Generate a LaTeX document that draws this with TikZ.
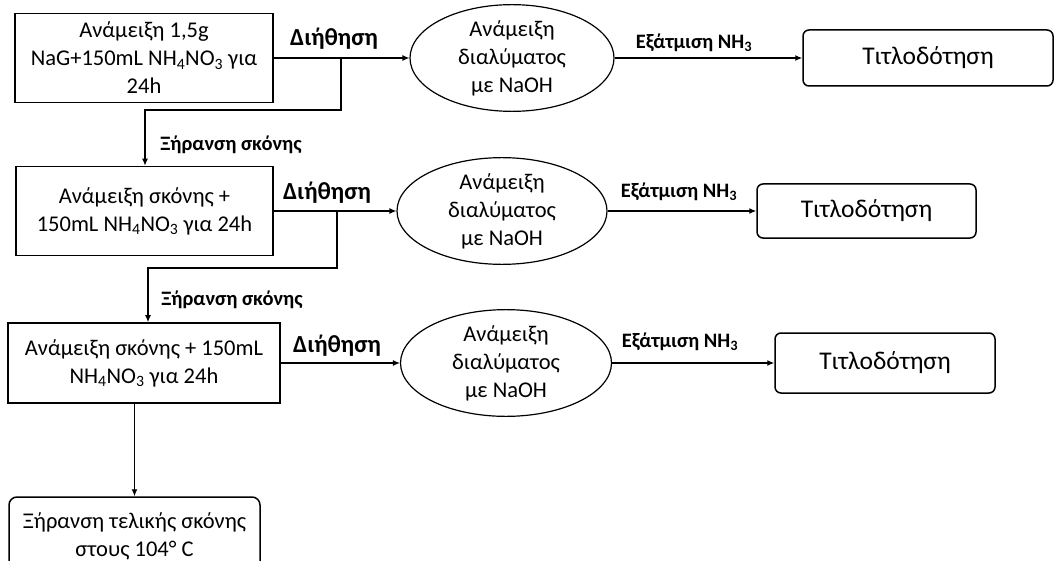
\documentclass[tikz,border=0pt]{standalone}
\usepackage{fontspec}
\setmainfont{Carlito}
\usetikzlibrary{shapes.geometric,arrows.meta}

\tikzset{
  x=1pt, y=-1pt,
  txt/.style={font=\fontsize{22.5}{28}\selectfont, align=center},
  procbox/.style={txt, draw, line width=1.6pt, rectangle, inner sep=0pt},
  soln/.style={txt, draw, line width=1.2pt, ellipse, inner sep=0pt},
  titbox/.style={font=\fontsize{25.5}{30}\selectfont, draw, line width=1.5pt,
    rounded corners=6pt, inner sep=0pt},
  finbox/.style={txt, draw, line width=1.5pt, rounded corners=8pt, inner sep=0pt},
  lblbig/.style={font=\bfseries\fontsize{24.5}{28}\selectfont, inner sep=0pt},
  lblsmall/.style={font=\bfseries\fontsize{20.5}{24}\selectfont, inner sep=0pt},
  conn/.style={line width=1.2pt, -{Latex[length=7pt,width=6pt]}},
}

\begin{document}
\begin{tikzpicture}
\useasboundingbox (0,0) rectangle (1056,561);
\clip (0,0) rectangle (1056,561);

% first stage
\node[procbox, minimum width=258pt, minimum height=89pt] (box1) at (144,58)
  {Ανάμειξη 1,5g\\NaG+150mL NH\textsubscript{4}NO\textsubscript{3} για\\24h};
\node[soln, minimum width=204pt, minimum height=85pt] (ell1) at (512,58)
  {Ανάμειξη\\διαλύματος\\με NaOH};
\node[titbox, minimum width=250pt, minimum height=56pt] (tit1) at (928,58) {Τιτλοδότηση};

% second stage
\node[procbox, minimum width=257pt, minimum height=89pt] (box2) at (144.5,211)
  {Ανάμειξη σκόνης +\\150mL NH\textsubscript{4}NO\textsubscript{3} για 24h};
\node[soln, minimum width=210pt, minimum height=87pt] (ell2) at (502,211)
  {Ανάμειξη\\διαλύματος\\με NaOH};
\node[titbox, minimum width=219pt, minimum height=54pt] (tit2) at (866.5,211) {Τιτλοδότηση};

% third stage
\node[procbox, minimum width=272pt, minimum height=80pt] (box3) at (144,363)
  {Ανάμειξη σκόνης + 150mL\\NH\textsubscript{4}NO\textsubscript{3} για 24h};
\node[soln, minimum width=211pt, minimum height=80pt] (ell3) at (506,363)
  {Ανάμειξη\\διαλύματος\\με NaOH};
\node[titbox, minimum width=220pt, minimum height=60pt] (tit3) at (885,363) {Τιτλοδότηση};

% final drying
\node[finbox, minimum width=251pt, minimum height=78pt] (fin) at (134.5,536)
  {Ξήρανση τελικής σκόνης\\στους 104° C};

% horizontal flow
\draw[conn] (box1) -- (ell1);
\draw[conn] (ell1) -- (tit1);
\draw[conn] (box2) -- (ell2);
\draw[conn] (ell2) -- (tit2);
\draw[conn] (box3) -- (ell3);
\draw[conn] (ell3) -- (tit3);

% drying branches
\coordinate (j1) at (341,58);
\coordinate (k1) at (145,110);
\draw[conn] (j1) |- (k1) -- (k1 |- box2.north);
\coordinate (j2) at (337,211);
\coordinate (k2) at (148,268);
\draw[conn] (j2) |- (k2) -- (k2 |- box3.north);
\draw[conn] (fin.north |- box3.south) -- (fin.north);

% labels
\node[lblbig] (d1) at (334,39) {Διήθηση};
\node[lblbig] (d2) at (327,193) {Διήθηση};
\node[lblbig] (d3) at (337,346) {Διήθηση};
\node[lblsmall] (x1) at (231,145) {Ξήρανση σκόνης};
\node[lblsmall] (x2) at (232,300) {Ξήρανση σκόνης};
\node[lblsmall] (e1) at (694,43) {Εξάτμιση NH\textsubscript{3}};
\node[lblsmall] (e2) at (679,192) {Εξάτμιση NH\textsubscript{3}};
\node[lblsmall] (e3) at (680,342) {Εξάτμιση NH\textsubscript{3}};
\end{tikzpicture}
\end{document}
